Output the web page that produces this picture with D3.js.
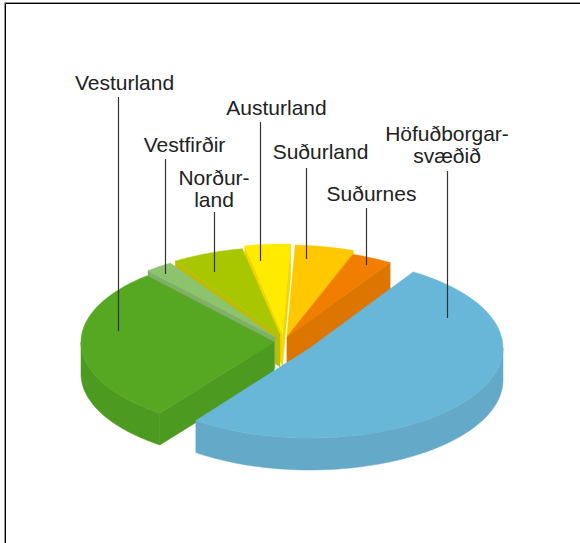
<!DOCTYPE html>
<html><head><meta charset="utf-8">
<script src="https://cdnjs.cloudflare.com/ajax/libs/d3/7.8.5/d3.min.js"></script>
<style>html,body{margin:0;background:#fff;overflow:hidden}svg{display:block}</style>
</head><body><svg id="c" width="580" height="543"></svg>
<script>
// data (clockwise from the back-right edge of the large slice)
const regions = ["Höfuðborgarsvæðið","Vesturland","Vestfirðir","Norðurland","Austurland","Suðurland","Suðurnes"];
const shares  = [51.1, 28.5, 2.3, 6.0, 3.8, 4.9, 3.4];
// styling and layout
const topColors  = ["#68b6d8","#56a822","#8dc36c","#a8c700","#ffea00","#ffc800","#f27e00"];
const sideColors = ["#64a9c8","#4c9b20","#7fb068","#bcbc00","#f2d600","#f5c000","#dc7600"];
const centersX = [310,274,275,280,282.5,287,287];
const centersY = [348,342,337,335,334,335,337];
const semiMinor = [90,88,88,88,90,90,88];
const drawOrder = [4,5,6,3,2,1,0];
const labelLines = [["Höfuðborgar-","svæðið"],["Vesturland"],["Vestfirðir"],["Norður-","land"],["Austurland"],["Suðurland"],["Suðurnes"]];
const labelX = [447,124.5,184.5,214,276.5,320.5,371.5];
const labelY = [141,90,152,185,115,159,201];
const leaderX = [447,118,165,214,260,306,366];
const leaderTop = [171,97,159,212,122,168,208];
const leaderEnd = [318,331,274,272,261,259,265];

const svg = d3.select("#c");
const rx = d3.scaleLinear([-1,1],[-193,193]);
const depth = 32;
const rad = d => d*Math.PI/180;
const start = rad(32.3);
const arcs = d3.pie().sort(null).value(d=>d).startAngle(start).endAngle(start+2*Math.PI)(shares);
const line = d3.line();
const pt = (i,t,dz=0) => [centersX[i]+rx(Math.sin(t)), centersY[i]-semiMinor[i]*Math.cos(t)+dz];
const apex = (i,dz=0) => [centersX[i],centersY[i]+dz];
const samples = (a,b) => d3.range(0,61).map(k=>a+(b-a)*k/60);

// frame
svg.append("path").attr("d","M4.5,543V2.5H580").attr("fill","none").attr("stroke","#999").attr("stroke-width",1);
svg.append("path").attr("d","M5.5,543V3.5H580").attr("fill","none").attr("stroke","#000").attr("stroke-width",1);

drawOrder.forEach(i=>{
  const a = arcs[i], t0=a.startAngle, t1=a.endAngle, g=svg.append("g");
  const side = d => g.append("path").attr("d",d).attr("fill",sideColors[i]).attr("stroke",sideColors[i]).attr("stroke-width",.5);
  const norm = t => ((t%(2*Math.PI))+2*Math.PI)%(2*Math.PI);
  const n0 = norm(t0), n1 = norm(t1);
  if(n0>Math.PI) side(line([apex(i),pt(i,t0),pt(i,t0,depth),apex(i,depth)])+"Z");
  if(n1<Math.PI) side(line([apex(i),pt(i,t1),pt(i,t1,depth),apex(i,depth)])+"Z");
  // outer wall: only the part turned to the viewer
  const lo=Math.max(t0,Math.PI/2), hi=Math.min(t1,3*Math.PI/2);
  if(hi>lo){
    const s=samples(lo,hi);
    side(line(s.map(t=>pt(i,t)).concat(s.slice().reverse().map(t=>pt(i,t,depth))))+"Z");
  }
  g.append("path").attr("d",line([apex(i)].concat(samples(t0,t1).map(t=>pt(i,t))))+"Z")
    .attr("fill",topColors[i]).attr("stroke",topColors[i]).attr("stroke-width",.5);
});

regions.forEach((r,i)=>{
  svg.append("line").attr("x1",leaderX[i]+.5).attr("x2",leaderX[i]+.5).attr("y1",leaderTop[i]).attr("y2",leaderEnd[i])
    .attr("stroke","#333").attr("stroke-width",1.2);
  labelLines[i].forEach((s,k)=>{
    svg.append("text").attr("x",labelX[i]).attr("y",labelY[i]+k*22).attr("text-anchor","middle")
      .attr("font-family","'Liberation Sans',Arial,sans-serif").attr("font-size",21).attr("fill","#222").text(s);
  });
});
</script></body></html>
